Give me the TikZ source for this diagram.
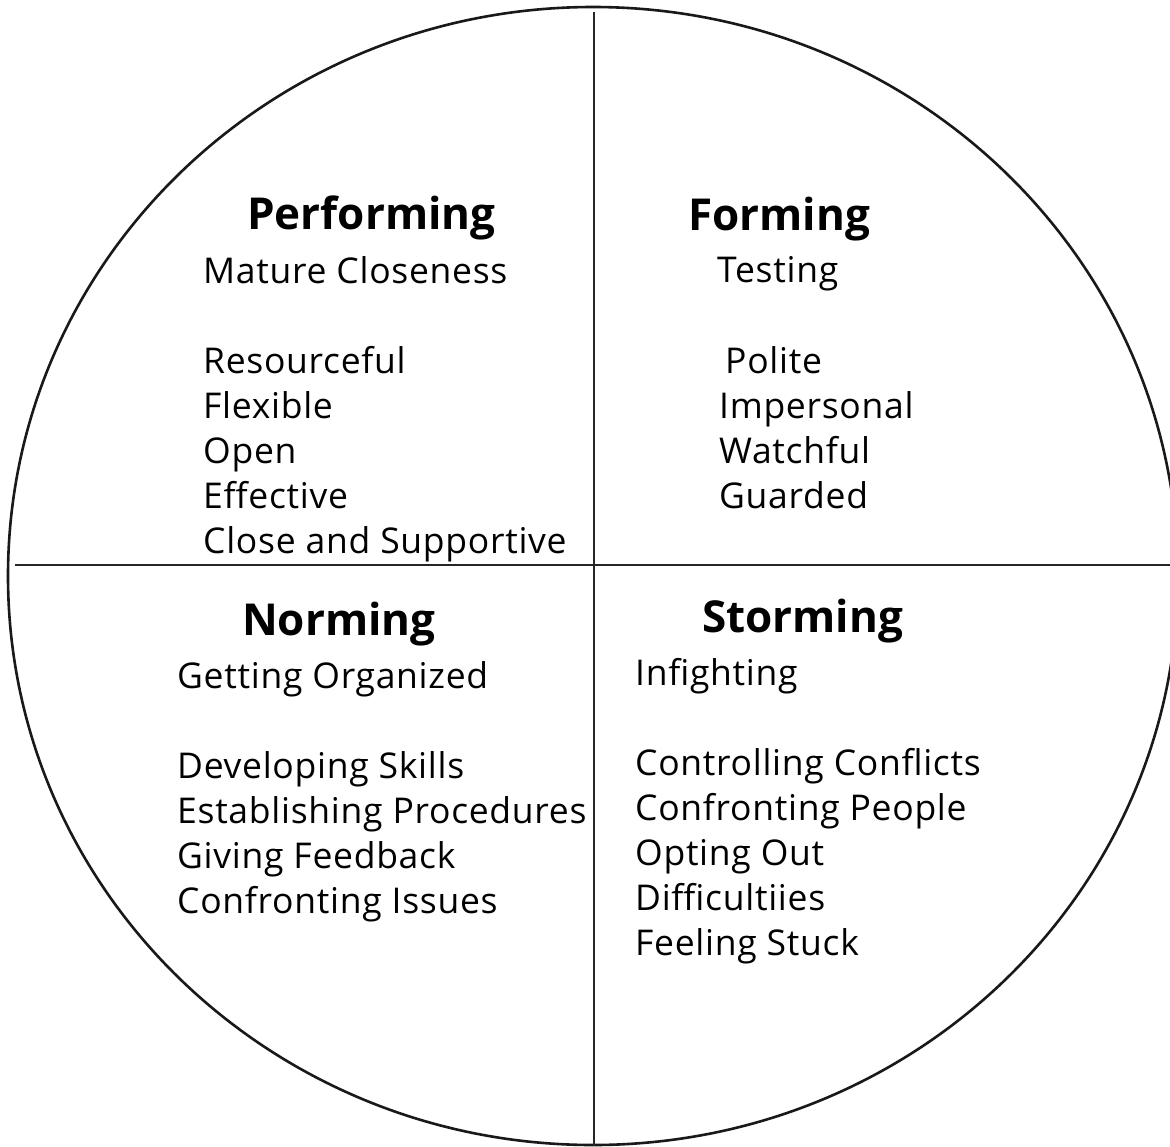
\documentclass[tikz,border=0pt]{standalone}
\usepackage{fontspec}
\setmainfont{Open Sans}
\begin{document}
\begin{tikzpicture}[x=1pt,y=-1pt,
  head/.style={anchor=base west,inner sep=0pt,font=\fontsize{44}{44}\selectfont\bfseries},
  item/.style={anchor=base west,inner sep=0pt,font=\fontsize{35.5}{36}\selectfont\addfontfeatures{LetterSpace=2}},
  rim/.style={line width=2.6pt,black!90},
  divider/.style={line width=2pt,black!85}]
\useasboundingbox (0,0) rectangle (1170,1146);
\clip (0,0) rectangle (1170,1146);
\fill[white] (0,0) rectangle (1170,1146);
\draw[rim] (593,576) ellipse [x radius=585, y radius=569];
\coordinate (vt) at (594,12);
\coordinate (vb) at (594,1146);
\coordinate (hl) at (15,565);
\coordinate (hr) at (1170,565);
\draw[divider] (vt) -- (vb);
\draw[divider] (hl) -- (hr);
% Performing
\node[head] (perf) at (247,229) {Performing};
\node[item] (p1) at (203,283) {Mature Closeness};
\node[item] (p2) at (203,373) {Resourceful};
\node[item] (p3) at (203,418) {Flexible};
\node[item] (p4) at (203,463) {Open};
\node[item] (p5) at (203,508) {Effective};
\node[item] (p6) at (203,553) {Close and Supportive};
% Forming
\node[head] (form) at (688,230) {Forming};
\node[item] (f1) at (717,282) {Testing};
\node[item] (f2) at (725,373) {Polite};
\node[item] (f3) at (719,418) {Impersonal};
\node[item] (f4) at (719,463) {Watchful};
\node[item] (f5) at (719,508) {Guarded};
% Norming
\node[head] (norm) at (242,635) {Norming};
\node[item] (n1) at (177,688) {Getting Organized};
\node[item] (n2) at (177,778) {Developing Skills};
\node[item] (n3) at (177,823) {Establishing Procedures};
\node[item] (n4) at (177,868) {Giving Feedback};
\node[item] (n5) at (177,913) {Confronting Issues};
% Storming
\node[head] (storm) at (702,632) {Storming};
\node[item] (s1) at (635,685) {Infighting};
\node[item] (s2) at (635,775) {Controlling Conflicts};
\node[item] (s3) at (635,820) {Confronting People};
\node[item] (s4) at (635,865) {Opting Out};
\node[item] (s5) at (635,910) {Difficultiies};
\node[item] (s6) at (635,955) {Feeling Stuck};
\end{tikzpicture}
\end{document}
